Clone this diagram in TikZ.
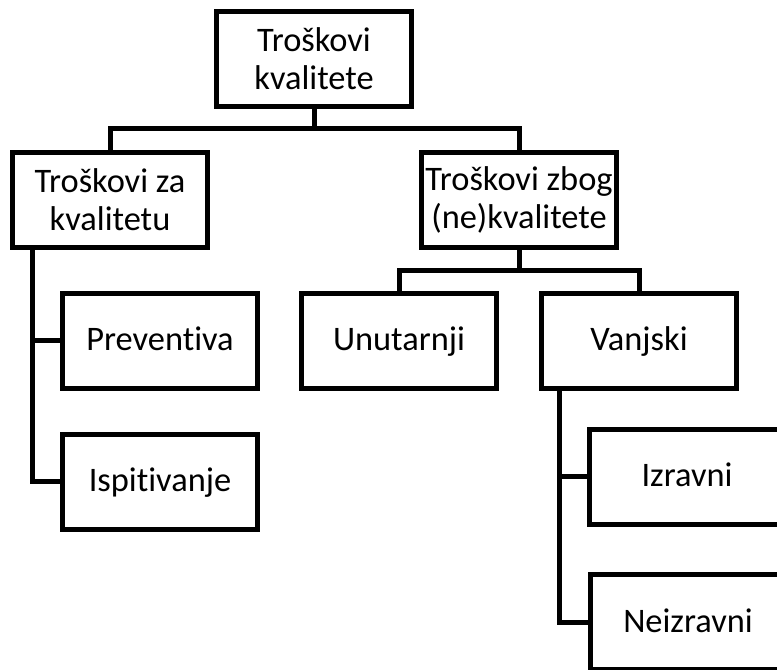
\documentclass[tikz,border=0pt]{standalone}
\usepackage{fontspec}
\setmainfont{Carlito}[Ligatures=NoCommon]
\begin{document}
\begin{tikzpicture}[x=0.75pt,y=-0.75pt,
  box/.style={draw=black,line width=3.75pt,fill=white,minimum width=146.25pt,minimum height=71.25pt,
    align=center,inner sep=0pt,font=\fontsize{25.8}{28.5}\selectfont},
  onebox/.style={box,text height=20pt,text depth=5pt},
  conn/.style={draw=black,line width=3.75pt,line join=miter}]
\useasboundingbox (0,0) rectangle (777,669);
\node[box] (top) at (314,59) {Troškovi\\kvalitete};
\node[box] (L1) at (110,200) {Troškovi za\\kvalitetu};
\node[box] (R1) at (519,199.5) {Troškovi zbog\\(ne)kvalitete};
\node[onebox] (Prev) at (160,340.5) {Preventiva};
\node[onebox] (Isp) at (160,481.5) {Ispitivanje};
\node[onebox] (Unut) at (399,340.5) {Unutarnji};
\node[onebox] (Vanj) at (639,340.5) {Vanjski};
\node[onebox] (Izr) at (687,476.5) {Izravni};
\node[onebox] (Neiz) at (688,622) {Neizravni};
\coordinate (b1) at (0,128);
\coordinate (b2) at (0,270);
\coordinate (lb) at (32,0);
\coordinate (rb) at (559,0);
\draw[conn] (top.south) -- (top.south |- b1) -| (L1.north);
\draw[conn] (top.south |- b1) -| (R1.north);
\draw[conn] (R1.south) -- (R1.south |- b2) -| (Unut.north);
\draw[conn] (R1.south |- b2) -| (Vanj.north);
\draw[conn] (L1.south -| lb) |- (Isp.west);
\draw[conn] (lb |- Prev.west) -- (Prev.west);
\draw[conn] (Vanj.south -| rb) |- (Neiz.west);
\draw[conn] (rb |- Izr.west) -- (Izr.west);
\end{tikzpicture}
\end{document}
